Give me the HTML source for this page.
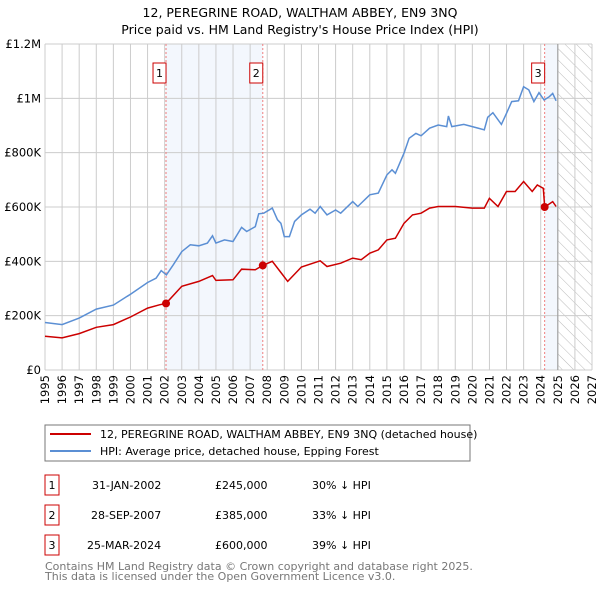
<!DOCTYPE html>
<html><head><meta charset="utf-8"><style>
body{margin:0;background:#fff;font-family:"Liberation Sans","DejaVu Sans",sans-serif;}
svg text{font-family:"DejaVu Sans","Liberation Sans",sans-serif;}
</style></head><body>
<svg id="c" width="600" height="590" viewBox="0 0 600 590">
<text x="300" y="17" font-size="12.5" text-anchor="middle">12, PEREGRINE ROAD, WALTHAM ABBEY, EN9 3NQ</text>
<text x="300" y="34" font-size="12.5" text-anchor="middle">Price paid vs. HM Land Registry's House Price Index (HPI)</text>
<defs><pattern id="hatch" width="8" height="8" patternUnits="userSpaceOnUse" patternTransform="rotate(-45)"><line x1="0" y1="0" x2="0" y2="8" stroke="#bbb" stroke-width="1"/></pattern></defs>
<g id="plot"></g>
<rect x="45" y="425" width="425" height="36" fill="#fff" stroke="#777"/>
<line x1="50" y1="434" x2="91" y2="434" stroke="#cc0000" stroke-width="2"/>
<text x="100" y="438" font-size="11">12, PEREGRINE ROAD, WALTHAM ABBEY, EN9 3NQ (detached house)</text>
<line x1="50" y1="451" x2="91" y2="451" stroke="#5b8fd4" stroke-width="2"/>
<text x="100" y="455" font-size="11">HPI: Average price, detached house, Epping Forest</text>
<g font-size="11">
<rect x="45" y="475" width="14" height="20" fill="none" stroke="#cc0000"/><text x="52" y="489" text-anchor="middle">1</text>
<text x="92" y="489">31-JAN-2002</text><text x="215" y="489">£245,000</text><text x="312" y="489">30% ↓ HPI</text>
<rect x="45" y="505" width="14" height="20" fill="none" stroke="#cc0000"/><text x="52" y="519" text-anchor="middle">2</text>
<text x="91" y="519">28-SEP-2007</text><text x="215" y="519">£385,000</text><text x="312" y="519">33% ↓ HPI</text>
<rect x="45" y="535" width="14" height="20" fill="none" stroke="#cc0000"/><text x="52" y="549" text-anchor="middle">3</text>
<text x="87" y="549">25-MAR-2024</text><text x="215" y="549">£600,000</text><text x="312" y="549">39% ↓ HPI</text>
</g>
<text x="45" y="570" font-size="11" fill="#777">Contains HM Land Registry data © Crown copyright and database right 2025.</text>
<text x="45" y="580" font-size="11" fill="#777">This data is licensed under the Open Government Licence v3.0.</text>
</svg>
<script>
const yTicks=[0,200000,400000,600000,800000,1000000,1200000];
const yTickLabels=["£0","£200K","£400K","£600K","£800K","£1M","£1.2M"];
const years=[1995,1996,1997,1998,1999,2000,2001,2002,2003,2004,2005,2006,2007,2008,2009,2010,2011,2012,2013,2014,2015,2016,2017,2018,2019,2020,2021,2022,2023,2024,2025,2026,2027];
const hpiT=[1995,1996,1997,1998,1999,2000,2001,2001.5,2001.8,2002.1,2002.5,2003,2003.5,2004,2004.5,2004.8,2005,2005.5,2006,2006.5,2006.8,2007.3,2007.5,2007.8,2008.3,2008.6,2008.8,2009,2009.3,2009.6,2010,2010.5,2010.8,2011.1,2011.5,2012,2012.3,2013,2013.3,2014,2014.5,2015,2015.3,2015.5,2016,2016.3,2016.7,2017,2017.5,2018,2018.5,2018.6,2018.8,2019.5,2020,2020.7,2020.9,2021.2,2021.7,2022,2022.3,2022.7,2023,2023.3,2023.6,2023.9,2024.2,2024.5,2024.7,2024.9];
const hpiV=[175,167,191,224,239,279,322,338,366,350,387,436,461,457,467,494,467,479,473,525,510,528,575,577,596,553,540,491,491,547,571,592,577,602,571,589,577,620,602,645,651,718,737,724,798,853,871,862,890,902,896,935,896,904,896,884,930,947,904,945,988,991,1043,1031,988,1021,994,1006,1018,991];
const ppT=[1995,1996,1997,1998,1999,2000,2001,2001.7,2002.08,2003,2004,2004.8,2005,2006,2006.5,2007.3,2007.74,2008.3,2008.8,2009.2,2010,2011.1,2011.5,2012.3,2013,2013.5,2014,2014.5,2015,2015.5,2016,2016.5,2017,2017.5,2018,2018.5,2019,2020,2020.7,2021,2021.5,2022,2022.5,2023,2023.5,2023.8,2024.15,2024.23,2024.7,2024.9];
const ppV=[124,118,134,157,167,195,228,240,245,308,326,348,330,332,371,369,385,400,359,326,379,402,381,393,412,406,430,442,479,485,540,571,577,596,602,602,602,596,596,632,602,657,657,694,657,681,669,600,620,602];
const saleT=[2002.08,2007.74,2024.23];
const saleV=[245,385,600];
const saleLabels=["1","2","3"];
const X0=45,X1=592,Y0=370,Y1=44;
const xs=t=>X0+(t-1995)/(2027-1995)*(X1-X0);
const ys=v=>Y0-v/1200000*(Y0-Y1);
const g=document.getElementById('plot');
const NS='http://www.w3.org/2000/svg';
function mk(tag,attrs,name){const e=document.createElementNS(NS,tag);for(const k in attrs)e.setAttribute(k,attrs[k]);


g.appendChild(e);return e;}
mk('rect',{x:xs(saleT[0]),y:Y1,width:xs(saleT[1])-xs(saleT[0]),height:Y0-Y1,fill:'#eef3fc',opacity:0.7},'shade-period-1');
mk('rect',{x:xs(saleT[2]),y:Y1,width:xs(2025)-xs(saleT[2]),height:Y0-Y1,fill:'#eef3fc',opacity:0.7},'shade-period-3');
mk('rect',{x:xs(2025),y:Y1,width:X1-xs(2025),height:Y0-Y1,fill:'url(#hatch)'},'future-hatch');
years.forEach(y=>{mk('line',{x1:xs(y),y1:Y1,x2:xs(y),y2:Y0,stroke:'#ccc','stroke-width':1},'x-grid-line');
const t=mk('text',{x:0,y:0,'font-size':11.5,'text-anchor':'end',transform:`translate(${xs(y)+4},${Y0+5}) rotate(-90)`},'x-tick-label');t.textContent=y;});
yTicks.forEach((v,i)=>{mk('line',{x1:X0,y1:ys(v),x2:X1,y2:ys(v),stroke:'#ccc','stroke-width':1},'y-grid-line');
const t=mk('text',{x:X0-4,y:ys(v)+4,'font-size':11.5,'text-anchor':'end'},'y-tick-label');t.textContent=yTickLabels[i];});
mk('line',{x1:xs(2025),y1:Y1,x2:xs(2025),y2:Y0,stroke:'#999','stroke-width':1},'data-end-line');
saleT.forEach((t,i)=>{mk('line',{x1:xs(t),y1:Y1,x2:xs(t),y2:Y0,stroke:'#f08080','stroke-width':1,'stroke-dasharray':'2,2'},'sale-marker-line');
mk('rect',{x:xs(t)-13,y:63,width:13,height:20,fill:'#fff',stroke:'#cc0000'},'sale-marker-box');
const tx=mk('text',{x:xs(t)-6.5,y:77,'font-size':11,'text-anchor':'middle'},'sale-marker-label');tx.textContent=saleLabels[i];});
const pts=(T,V)=>T.map((t,i)=>xs(t).toFixed(1)+','+ys(V[i]*1000).toFixed(1)).join(' ');
mk('polyline',{points:pts(hpiT,hpiV),fill:'none',stroke:'#5b8fd4','stroke-width':1.5},'hpi-line');
mk('polyline',{points:pts(ppT,ppV),fill:'none',stroke:'#cc0000','stroke-width':1.5},'price-paid-line');
saleT.forEach((t,i)=>mk('circle',{cx:xs(t),cy:ys(saleV[i]*1000),r:4,fill:'#cc0000'},'sale-point'));
</script>
</body></html>
